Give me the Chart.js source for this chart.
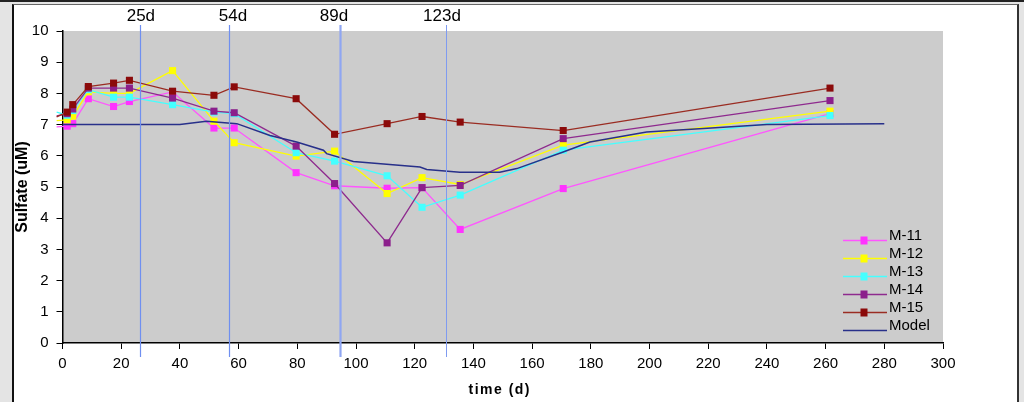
<!DOCTYPE html>
<html>
<head>
<meta charset="utf-8">
<script src="https://cdn.jsdelivr.net/npm/chart.js@4"></script>
<style>
    html, body { margin: 0; padding: 0; }
    body {
        width: 1024px; height: 402px; position: relative; overflow: hidden;
        background: #e4e4e4;
        font-family: "Liberation Sans", Arial, sans-serif;
    }
    #topLine { position: absolute; left: 0; top: 0; width: 1024px; height: 2px; background: #222; }
    #panel {
        position: absolute; left: 12px; top: 4px; width: 1003px; height: 398px;
        background: #fff; border-left: 2px solid #111; border-right: 2px solid #333; border-top: 1px solid #666;
    }
    #wrap { position: absolute; left: 0; top: 0; width: 1024px; height: 402px; }
</style>
</head>
<body>
<div id="topLine"></div>
<div id="panel"></div>
<div id="wrap"><canvas id="sulfateCanvas"></canvas></div>
<script>
// sampling days (first point lies left of the axis, line only)
const days = [-2, 1.6, 3.5, 8.8, 17.4, 22.8, 37.5, 51.6, 58.5, 79.6, 92.7, 110.6, 122.5, 135.5, 170.6, 261.5];

const m11 = [6.93, 6.95, 7.03, 7.83, 7.58, 7.74, 8.05, 6.89, 6.89, 5.46, 5.04, 4.96, 4.98, 3.64, 4.95, 7.35];
const m12 = [7.13, 7.15, 7.27, 8.05, 8.00, 8.00, 8.73, 7.11, 6.42, 5.99, 6.15, 4.79, 5.30, 5.08, 6.34, 7.43];
const m13 = [7.40, 7.30, 7.45, 8.12, 7.88, 7.88, 7.64, 7.40, 7.35, 6.10, 5.83, 5.36, 4.35, 4.74, 6.18, 7.29];
const m14 = [7.28, 7.35, 7.50, 8.17, 8.17, 8.17, 7.85, 7.43, 7.38, 6.31, 5.11, 3.21, 4.98, 5.05, 6.55, 7.77];
const m15 = [7.25, 7.40, 7.64, 8.22, 8.33, 8.42, 8.07, 7.94, 8.21, 7.83, 6.69, 7.03, 7.26, 7.08, 6.81, 8.17];

const modelDays   = [0, 40, 49, 59.4, 70.7, 79.8, 88.9, 90, 99.1, 121.8, 124.1, 135.4, 149, 154.8, 170.6, 179.7, 199, 217, 240, 280];
const modelValues = [7.0, 7.0, 7.11, 7.03, 6.65, 6.44, 6.18, 6.07, 5.82, 5.64, 5.56, 5.47, 5.47, 5.59, 6.12, 6.44, 6.76, 6.87, 7.0, 7.03];

// vertical day markers and their captions
const markerDays   = [26.3, 56.8, 94.5, 130.6];
const markerLabels = ['25d', '54d', '89d', '123d'];
const labelDays    = [26.7, 58.1, 92.5, 129.3];

const xTitle = 'time (d)';

const FONT = '"Liberation Sans", Arial, sans-serif';

function toPoints(xs, ys) {
    return xs.map((x, i) => ({ x: x, y: ys[i] }));
}

function sampleSet(label, values, lineColor, markColor, order) {
    return {
        label: label,
        data: toPoints(days, values),
        showLine: true,
        borderColor: lineColor,
        borderWidth: 1.3,
        backgroundColor: markColor,
        pointBackgroundColor: markColor,
        pointBorderWidth: 0,
        pointStyle: 'rect',
        pointRadius: ctx => ctx.dataIndex === 0 ? 0 : 5,
        clip: false,
        order: order
    };
}

// grey plotting area
const plotBackground = {
    id: 'plotBackground',
    beforeDraw(chart) {
        const { ctx, chartArea } = chart;
        ctx.save();
        ctx.fillStyle = '#cccccc';
        ctx.fillRect(chartArea.left, chartArea.top, chartArea.right - chartArea.left, chartArea.bottom - chartArea.top);
        ctx.restore();
    }
};

// blue vertical day lines with captions on top
const dayLines = {
    id: 'dayLines',
    afterDatasetsDraw(chart) {
        const { ctx, chartArea, scales } = chart;
        const widths = [1.2, 1.2, 2.2, 1];
        const colors = ['#6f8ff0', '#6f8ff0', '#8fa6f2', '#7f9bf0'];
        ctx.save();
        markerDays.forEach((d, i) => {
            const px = Math.round(scales.x.getPixelForValue(d)) + 0.5;
            ctx.strokeStyle = colors[i];
            ctx.lineWidth = widths[i];
            ctx.beginPath();
            ctx.moveTo(px, chartArea.top - 6);
            ctx.lineTo(px, chartArea.bottom + 14);
            ctx.stroke();
        });
        ctx.fillStyle = '#000';
        ctx.font = '17px ' + FONT;
        ctx.textAlign = 'center';
        ctx.textBaseline = 'middle';
        labelDays.forEach((d, i) => {
            ctx.fillText(markerLabels[i], scales.x.getPixelForValue(d), chartArea.top - 15);
        });
        ctx.restore();
    }
};

// legend drawn inside the plot, bottom right
const insideLegend = {
    id: 'insideLegend',
    afterDraw(chart) {
        const { ctx, chartArea, scales } = chart;
        const x0 = chartArea.right - 100;
        const x1 = chartArea.right - 56;
        const mx = chartArea.right - 79;
        ctx.save();
        ctx.font = '15px ' + FONT;
        ctx.textAlign = 'left';
        ctx.textBaseline = 'middle';
        chart.data.datasets.forEach((ds, i) => {
            const y = Math.round(chartArea.top + 209 + i * 18) + 0.5;
            ctx.strokeStyle = ds.borderColor;
            ctx.lineWidth = 1.5;
            ctx.beginPath();
            ctx.moveTo(x0, y);
            ctx.lineTo(x1, y);
            ctx.stroke();
            if (ds.label !== 'Model') {
                ctx.fillStyle = ds.pointBackgroundColor;
                ctx.fillRect(mx - 3.5, y - 4, 7, 8);
            }
            ctx.fillStyle = '#000';
            ctx.fillText(ds.label, x1 + 2, y - 5);
        });

        // x axis title, spaced out like the original
        ctx.font = 'bold 14px ' + FONT;
        ctx.letterSpacing = '1.5px';
        ctx.textAlign = 'center';
        ctx.fillText(xTitle, (scales.x.left + scales.x.right) / 2 - 3, chart.height - 12);
        ctx.restore();
    }
};

const ctx = document.getElementById('sulfateCanvas').getContext('2d');

new Chart(ctx, {
    type: 'scatter',
    data: {
        datasets: [
            sampleSet('M-11', m11, '#ff55ff', '#ff33ff', 4),
            sampleSet('M-12', m12, '#ffff00', '#ffff00', 3),
            sampleSet('M-13', m13, '#44ffff', '#44ffff', 2),
            sampleSet('M-14', m14, '#8e2a8e', '#8b1f8b', 1),
            sampleSet('M-15', m15, '#9a2c22', '#8b0a0a', 0),
            {
                label: 'Model',
                data: toPoints(modelDays, modelValues),
                showLine: true,
                borderColor: '#28308a',
                borderWidth: 1.5,
                pointRadius: 0,
                pointBackgroundColor: '#28308a',
                order: -1
            }
        ]
    },
    options: {
        responsive: true,
        maintainAspectRatio: false,
        animation: false,
        layout: { padding: { left: 0, right: 81, top: 31, bottom: 0 } },
        plugins: {
            legend: { display: false },
            tooltip: { enabled: false }
        },
        scales: {
            x: {
                type: 'linear',
                min: 0,
                max: 300,
                afterFit: scale => { scale.height = 59; },
                ticks: {
                    stepSize: 20,
                    color: '#000',
                    padding: 6,
                    font: { family: FONT, size: 15 }
                },
                grid: { drawOnChartArea: false, color: '#000', tickLength: 6, lineWidth: 1 },
                border: { color: '#000', width: 1.5 },
                title: { display: false }
            },
            y: {
                min: 0,
                max: 10,
                afterFit: scale => { scale.width = 62.5; },
                ticks: {
                    stepSize: 1,
                    color: '#000',
                    padding: 8,
                    font: { family: FONT, size: 15 }
                },
                grid: { drawOnChartArea: false, color: '#000', tickLength: 6, lineWidth: 1 },
                border: { color: '#000', width: 1.5 },
                title: {
                    display: true,
                    text: 'Sulfate (uM)',
                    color: '#000',
                    padding: { top: 13, bottom: 0 },
                    font: { family: FONT, size: 16, weight: 'bold' }
                }
            }
        }
    },
    plugins: [plotBackground, dayLines, insideLegend]
});
</script>
</body>
</html>
